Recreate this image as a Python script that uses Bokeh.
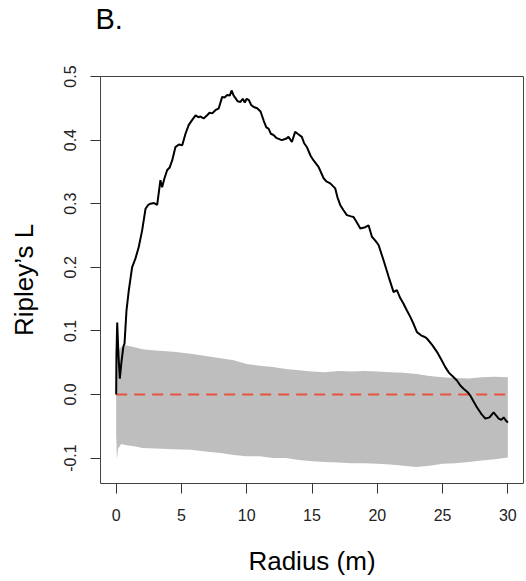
from bokeh.plotting import figure
from bokeh.models import Range1d, FixedTicker, Title
from bokeh.embed import file_html
from bokeh.resources import INLINE

# Observed Ripley's L
r_obs = [0, 0.02, 0.08, 0.18, 0.28, 0.4, 0.55, 0.64, 0.79, 0.97, 1.22, 1.48, 1.73, 1.99,
         2.25, 2.45, 2.63, 2.9, 3.14, 3.39, 3.52, 3.7, 3.91, 4.1, 4.29, 4.54, 4.8, 5.06,
         5.31, 5.56, 5.8, 6.08, 6.3, 6.46, 6.7, 6.97, 7.15, 7.36, 7.6, 7.86, 8.12, 8.3,
         8.5, 8.7, 8.84, 9.0, 9.14, 9.3, 9.52, 9.7, 9.85, 10.0, 10.16, 10.35, 10.54, 10.8,
         11.06, 11.31, 11.5, 11.67, 11.85, 12.05, 12.3, 12.69, 13.0, 13.2, 13.46, 13.71,
         13.9, 14.22, 14.4, 14.61, 14.9, 15.12, 15.5, 15.89, 16.1, 16.4, 16.78, 16.95,
         17.16, 17.4, 17.67, 18.0, 18.18, 18.45, 18.7, 19.08, 19.33, 19.59, 19.85, 20.1,
         20.48, 20.87, 21.25, 21.5, 21.75, 22.0, 22.27, 22.53, 22.8, 23.04, 23.35, 23.68,
         23.8, 24.2, 24.57, 24.9, 25.21, 25.5, 25.85, 26.1, 26.36, 26.61, 26.9, 27.13,
         27.4, 27.63, 27.95, 28.28, 28.6, 28.91, 29.1, 29.3, 29.5, 29.68, 29.85, 30.0]
L_obs = [0.0, 0.06, 0.113, 0.06, 0.025, 0.05, 0.075, 0.08, 0.132, 0.164, 0.2, 0.214, 0.232,
         0.258, 0.292, 0.298, 0.300, 0.301, 0.298, 0.337, 0.326, 0.34, 0.353, 0.357, 0.368,
         0.389, 0.393, 0.392, 0.41, 0.424, 0.431, 0.439, 0.436, 0.437, 0.434, 0.439, 0.443,
         0.442, 0.447, 0.45, 0.468, 0.467, 0.471, 0.47, 0.478, 0.47, 0.466, 0.461, 0.460,
         0.465, 0.459, 0.465, 0.463, 0.455, 0.452, 0.45, 0.445, 0.43, 0.42, 0.418, 0.41,
         0.408, 0.403, 0.4, 0.402, 0.405, 0.397, 0.413, 0.41, 0.405, 0.395, 0.389, 0.375,
         0.368, 0.358, 0.340, 0.335, 0.332, 0.324, 0.31, 0.298, 0.29, 0.282, 0.28, 0.279,
         0.27, 0.261, 0.263, 0.266, 0.248, 0.242, 0.235, 0.211, 0.185, 0.161, 0.164, 0.152,
         0.143, 0.132, 0.122, 0.11, 0.098, 0.093, 0.09, 0.088, 0.078, 0.067, 0.055, 0.043,
         0.034, 0.027, 0.022, 0.014, 0.009, 0.004, -0.002, -0.012, -0.020, -0.03, -0.038,
         -0.036, -0.028, -0.033, -0.038, -0.04, -0.036, -0.041, -0.044]

# Simulation envelope
r_env = [0, 0.05, 0.15, 0.4, 0.8, 1.5, 2, 3, 4.4, 5.7, 7, 8, 9, 10, 11, 12, 13, 14, 15, 16,
         17, 18, 19, 20, 21, 22, 23, 24, 25, 26, 27, 28, 29, 30]
env_hi = [0.05, 0.06, 0.068, 0.075, 0.077, 0.074, 0.071, 0.069, 0.067, 0.064, 0.06, 0.057,
          0.054, 0.048, 0.045, 0.043, 0.040, 0.038, 0.036, 0.035, 0.037, 0.036, 0.037, 0.036,
          0.035, 0.034, 0.032, 0.029, 0.027, 0.026, 0.025, 0.027, 0.028, 0.027]
env_lo = [-0.06, -0.102, -0.085, -0.078, -0.08, -0.082, -0.084, -0.085, -0.086, -0.087,
          -0.09, -0.092, -0.095, -0.097, -0.097, -0.1, -0.1, -0.103, -0.105, -0.106, -0.107,
          -0.108, -0.108, -0.109, -0.11, -0.112, -0.114, -0.112, -0.109, -0.108, -0.106,
          -0.104, -0.102, -0.099]

x_ticks = [0, 5, 10, 15, 20, 25, 30]
y_ticks = [-0.1, 0.0, 0.1, 0.2, 0.3, 0.4, 0.5]

FONT = "Liberation Sans"

p = figure(width=526, height=581, output_backend="svg", toolbar_location=None,
           x_range=Range1d(-1.2, 31.2), y_range=Range1d(-0.14, 0.50),
           min_border_left=100, min_border_right=3, min_border_top=76, min_border_bottom=98)
p.background_fill_color = "white"
p.border_fill_color = "white"
p.outline_line_color = "#444444"
p.outline_line_width = 1
p.grid.visible = False

p.title.text = "B."
p.title.text_font = FONT
p.title.text_font_size = "29px"
p.title.text_font_style = "normal"
p.title.text_color = "black"
p.title.align = "left"
p.title.vertical_align = "bottom"
p.title.offset = -5
p.title.standoff = 0

# empty spacer between the panel label and the frame
p.add_layout(Title(text=" ", text_font=FONT, text_font_size="29px", standoff=8), "above")

p.varea(x=r_env, y1=env_lo, y2=env_hi, fill_color="#BEBEBE", fill_alpha=1.0)
p.line(x=[0, 30], y=[0, 0], line_color="#E8533F", line_width=2, line_dash="11 7")
p.line(x=r_obs, y=L_obs, line_color="black", line_width=2)

for ax in (p.xaxis[0], p.yaxis[0]):
    ax.axis_line_color = None
    ax.major_tick_line_color = "#333333"
    ax.major_tick_out = 10
    ax.major_tick_in = 0
    ax.minor_tick_line_color = None
    ax.major_label_text_font = FONT
    ax.major_label_text_font_size = "16px"
    ax.major_label_text_color = "#222222"
    ax.axis_label_text_font = FONT
    ax.axis_label_text_font_size = "26px"
    ax.axis_label_text_font_style = "normal"
    ax.axis_label_text_color = "black"

p.xaxis.ticker = FixedTicker(ticks=x_ticks)
p.yaxis.ticker = FixedTicker(ticks=y_ticks)
p.xaxis.major_label_overrides = {t: str(t) for t in x_ticks}
p.yaxis.major_label_overrides = {t: f"{t:.1f}" for t in y_ticks}
p.yaxis.major_label_orientation = "vertical"
p.xaxis.major_label_standoff = 15
p.yaxis.major_label_standoff = 15
p.xaxis.axis_label = "Radius (m)"
p.yaxis.axis_label = "Ripley\u2019s L"
p.xaxis.axis_label_standoff = 22
p.yaxis.axis_label_standoff = 22

open("out.html", "w").write(file_html(p, INLINE))
